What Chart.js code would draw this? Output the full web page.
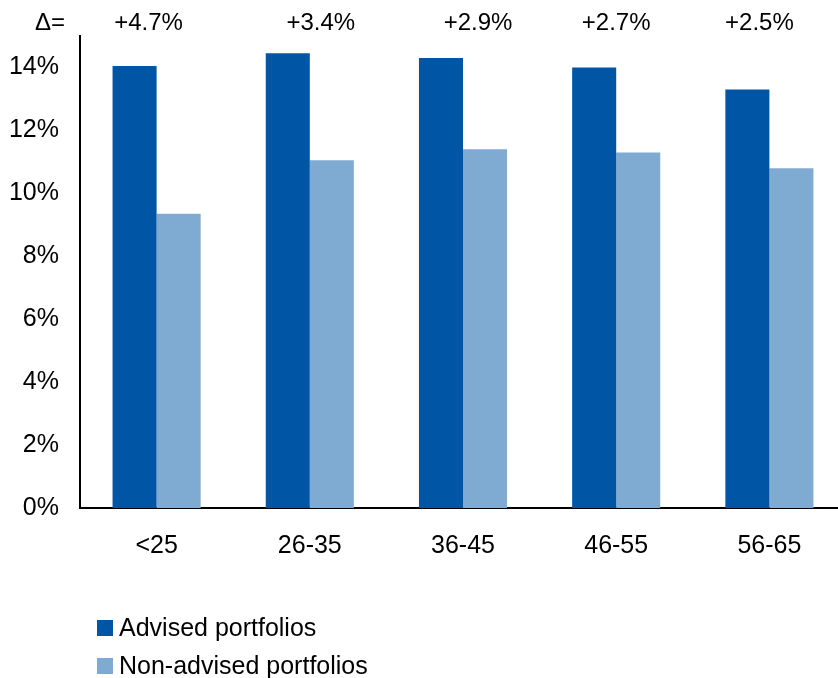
<!DOCTYPE html>
<html>
<head>
<meta charset="utf-8">
<title>Advised vs non-advised portfolios by age</title>
<script src="https://cdn.jsdelivr.net/npm/chart.js@4.4.1/dist/chart.umd.min.js"></script>
<style>
    html, body {
        margin: 0;
        padding: 0;
        background: #ffffff;
        overflow: hidden;
    }
    #wrap {
        width: 846px;
        height: 678px;
    }
</style>
</head>
<body>
<div id="wrap">
    <canvas id="ageChart" width="846" height="678"></canvas>
</div>
<script>
// ---------------------------------------------------------------------------
// Data
// ---------------------------------------------------------------------------

const AGE_GROUPS = ['<25', '26-35', '36-45', '46-55', '56-65'];
const ADVISED = [14.05, 14.45, 14.3, 14.0, 13.3];
const NON_ADVISED = [9.35, 11.05, 11.4, 11.3, 10.8];
const Y_TICKS = [0, 2, 4, 6, 8, 10, 12, 14];

const SERIES_NAMES = ['Advised portfolios', 'Non-advised portfolios'];

// ---------------------------------------------------------------------------
// Styling
// ---------------------------------------------------------------------------

const COLORS = {
    ADVISED: '#0055A4',
    NON_ADVISED: '#7FABD3',
    TEXT: '#000000',
    AXIS: '#000000',
};

const FONT_FAMILY = '"Liberation Sans", Arial, Helvetica, sans-serif';
const TICK_SIZE = 25;
const DELTA_SIZE = 24;
const LEGEND_SIZE = 25;

// Delta row along the top; small horizontal nudges keep the text boxes
// where they sit in the layout
const DELTA_ROW_Y = 23;
const DELTA_NUDGE_X = [-8, 11, 15, 0, -10];

const LEGEND_LAYOUT = { x: 97, box: 16, gap: 6, rows: [628, 666] };

// ---------------------------------------------------------------------------
// Plugins
// ---------------------------------------------------------------------------

const deltaLabels = {
    id: 'deltaLabels',
    afterDraw(chart) {
        const { ctx } = chart;
        const xScale = chart.scales.x;
        const advised = chart.data.datasets[0].data;
        const nonAdvised = chart.data.datasets[1].data;

        ctx.save();
        ctx.fillStyle = COLORS.TEXT;
        ctx.font = `${DELTA_SIZE}px ${FONT_FAMILY}`;
        ctx.textBaseline = 'middle';
        ctx.textAlign = 'center';
        ctx.fillText('Δ=', 50, DELTA_ROW_Y);

        advised.forEach((value, i) => {
            const diff = value - nonAdvised[i];
            const text = `+${diff.toFixed(1)}%`;
            const x = xScale.getPixelForValue(i) + (DELTA_NUDGE_X[i] || 0);
            ctx.fillText(text, x, DELTA_ROW_Y);
        });
        ctx.restore();
    }
};

const stackedLegend = {
    id: 'stackedLegend',
    afterDraw(chart) {
        const { ctx } = chart;
        const { x, box, gap, rows } = LEGEND_LAYOUT;

        ctx.save();
        ctx.font = `${LEGEND_SIZE}px ${FONT_FAMILY}`;
        ctx.textBaseline = 'middle';
        ctx.textAlign = 'left';
        chart.data.datasets.forEach((ds, i) => {
            const y = rows[i];
            ctx.fillStyle = ds.backgroundColor;
            ctx.fillRect(x, y - box / 2, box, box);
            ctx.fillStyle = COLORS.TEXT;
            ctx.fillText(ds.label, x + box + gap, y + 1);
        });
        ctx.restore();
    }
};

// ---------------------------------------------------------------------------
// Chart
// ---------------------------------------------------------------------------

const initChart = () => {
    const canvas = document.getElementById('ageChart');
    if (!canvas) return;

    Chart.defaults.font.family = FONT_FAMILY;
    Chart.defaults.color = COLORS.TEXT;

    new Chart(canvas.getContext('2d'), {
        type: 'bar',
        data: {
            labels: AGE_GROUPS,
            datasets: [
                {
                    label: SERIES_NAMES[0],
                    data: ADVISED,
                    backgroundColor: COLORS.ADVISED,
                    borderWidth: 0,
                },
                {
                    label: SERIES_NAMES[1],
                    data: NON_ADVISED,
                    backgroundColor: COLORS.NON_ADVISED,
                    borderWidth: 0,
                }
            ]
        },
        options: {
            responsive: false,
            animation: false,
            devicePixelRatio: 1,
            layout: {
                padding: { top: 36, right: 0, bottom: 110, left: 0 }
            },
            datasets: {
                bar: {
                    barPercentage: 1.0,
                    categoryPercentage: 0.575,
                }
            },
            plugins: {
                legend: { display: false },
                tooltip: { enabled: false },
            },
            scales: {
                x: {
                    grid: { display: false, drawTicks: false },
                    border: { display: true, color: COLORS.AXIS, width: 2 },
                    ticks: {
                        padding: 23,
                        color: COLORS.TEXT,
                        font: { size: TICK_SIZE },
                    },
                    afterFit(scale) {
                        scale.height = 60;
                    }
                },
                y: {
                    min: 0,
                    max: 15,
                    grid: { display: false, drawTicks: false },
                    border: { display: true, color: COLORS.AXIS, width: 2 },
                    ticks: {
                        padding: 21,
                        color: COLORS.TEXT,
                        font: { size: TICK_SIZE },
                        callback: (value) => `${value}%`,
                    },
                    afterBuildTicks(scale) {
                        scale.ticks = Y_TICKS.map((v) => ({ value: v }));
                    },
                    afterFit(scale) {
                        scale.width = 80;
                    }
                }
            }
        },
        plugins: [deltaLabels, stackedLegend]
    });
};

if (document.readyState === 'loading') {
    document.addEventListener('DOMContentLoaded', initChart);
} else {
    initChart();
}
</script>
</body>
</html>
